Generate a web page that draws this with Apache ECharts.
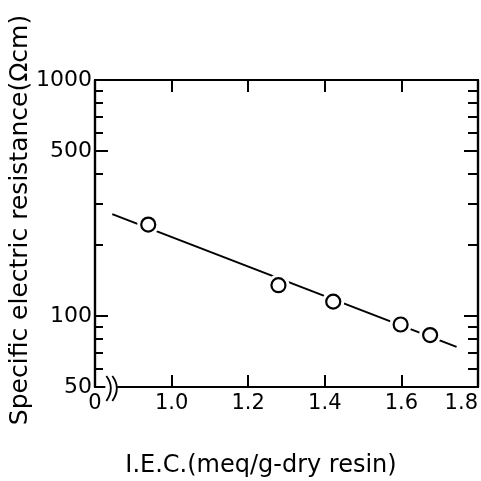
<!DOCTYPE html>
<html>
<head>
<meta charset="utf-8">
<script src="https://cdn.jsdelivr.net/npm/echarts@6/dist/echarts.min.js"></script>
<style>
  html, body { margin: 0; padding: 0; background: #fff; }
  #chart { width: 481px; height: 481px; }
</style>
</head>
<body>
<div id="chart"></div>
<script>
// Measured points: ion exchange capacity vs. specific electric resistance
const iec = [0.939, 1.279, 1.422, 1.598, 1.675];
const resistance = [244, 135, 115, 92, 83];

// Straight fitted line (end points)
const fitIec = [0.845, 1.744];
const fitResistance = [270, 74];

// Axis ticks
const xMin = 0.8, xMax = 1.8, xStep = 0.2;
const yMajorTicks = [50, 100, 500, 1000];
const yMinorTicks = [60, 70, 80, 90, 200, 300, 400, 600, 700, 800, 900];

const xTitle = 'I.E.C.(meq/g-dry resin)';
const yTitle = 'Specific electric resistance(\u03A9cm)';

const FONT = 'DejaVu Sans';
const INK = '#000';

const chart = echarts.init(document.getElementById('chart'), null, { renderer: 'canvas' });

function yAxisDef(position, ticks, len, showLabel) {
  return {
    type: 'log', logBase: 10, min: 50, max: 1000, position: position,
    axisLine: { show: true, lineStyle: { color: INK, width: 2.2 } },
    axisTick: { show: true, inside: true, length: len, customValues: ticks,
                lineStyle: { color: INK, width: 2 } },
    axisLabel: { show: showLabel, customValues: ticks, color: INK, fontFamily: FONT,
                 fontSize: 22, margin: 3, formatter: v => String(Math.round(v)) },
    splitLine: { show: false }, minorTick: { show: false }
  };
}

const option = {
  animation: false,
  backgroundColor: '#fff',
  grid: { left: 95, right: 3, top: 80, bottom: 94, containLabel: false },
  xAxis: [
    {
      type: 'value', min: xMin, max: xMax, interval: xStep, position: 'bottom',
      axisLine: { show: true, onZero: false, lineStyle: { color: INK, width: 2.2 } },
      axisTick: { show: true, inside: true, length: 12, lineStyle: { color: INK, width: 2 } },
      axisLabel: {
        color: INK, fontFamily: FONT, fontSize: 21, margin: 6,
        showMinLabel: true, showMaxLabel: true, alignMaxLabel: 'right',
        formatter: v => (Math.abs(v - xMin) < 1e-6 ? '0' : v.toFixed(1))
      },
      splitLine: { show: false }
    },
    {
      type: 'value', min: xMin, max: xMax, interval: xStep, position: 'top',
      axisLine: { show: true, onZero: false, lineStyle: { color: INK, width: 2.2 } },
      axisTick: { show: true, inside: true, length: 12, lineStyle: { color: INK, width: 2 } },
      axisLabel: { show: false },
      splitLine: { show: false }
    }
  ],
  yAxis: [
    yAxisDef('left', yMajorTicks, 13, true),
    yAxisDef('left', yMinorTicks, 8, false),
    yAxisDef('right', yMajorTicks, 14, false),
    yAxisDef('right', yMinorTicks, 10, false)
  ],
  series: [
    {
      type: 'line', xAxisIndex: 0, yAxisIndex: 0,
      data: fitIec.map((x, i) => [x, fitResistance[i]]),
      symbol: 'none', lineStyle: { color: INK, width: 2 }, z: 2
    },
    {
      // white halo so the line stops short of each circle
      type: 'scatter', xAxisIndex: 0, yAxisIndex: 0,
      data: iec.map((x, i) => [x, resistance[i]]),
      symbol: 'circle', symbolSize: 22,
      itemStyle: { color: '#fff', borderWidth: 0, opacity: 1 }, z: 3, silent: true
    },
    {
      type: 'scatter', xAxisIndex: 0, yAxisIndex: 0,
      data: iec.map((x, i) => [x, resistance[i]]),
      symbol: 'circle', symbolSize: 14,
      itemStyle: { color: '#fff', borderColor: INK, borderWidth: 2.2, opacity: 1 }, z: 4
    }
  ]
};

chart.setOption(option);

// Axis break on the x axis, placed through the grid's own coordinate system
const p0 = chart.convertToPixel({ gridIndex: 0 }, [0.827, 50]);
const p1 = chart.convertToPixel({ gridIndex: 0 }, [0.858, 50]);
const bx0 = p0[0], bx1 = p1[0], by = p0[1];

function breakMark(x) {
  return {
    type: 'bezierCurve', z: 100,
    shape: { x1: x - 1, y1: by - 11, x2: x - 1, y2: by + 14, cpx1: x + 8, cpy1: by + 1 },
    style: { stroke: INK, lineWidth: 1.8, fill: null }
  };
}

chart.setOption({
  graphic: [
    { type: 'rect', z: 99, shape: { x: bx0, y: by - 4, width: bx1 - bx0, height: 8 },
      style: { fill: '#fff' } },
    breakMark(bx0 + 2),
    breakMark(bx0 + 8),
    { type: 'text', z: 100, x: 261, y: 466,
      style: { text: xTitle, font: '24px "' + FONT + '"', fill: INK,
               align: 'center', verticalAlign: 'middle' } },
    { type: 'text', z: 100, x: 20, y: 220, rotation: Math.PI / 2,
      style: { text: yTitle, font: '25px "' + FONT + '"', fill: INK,
               align: 'center', verticalAlign: 'middle' } }
  ]
});
</script>
</body>
</html>
